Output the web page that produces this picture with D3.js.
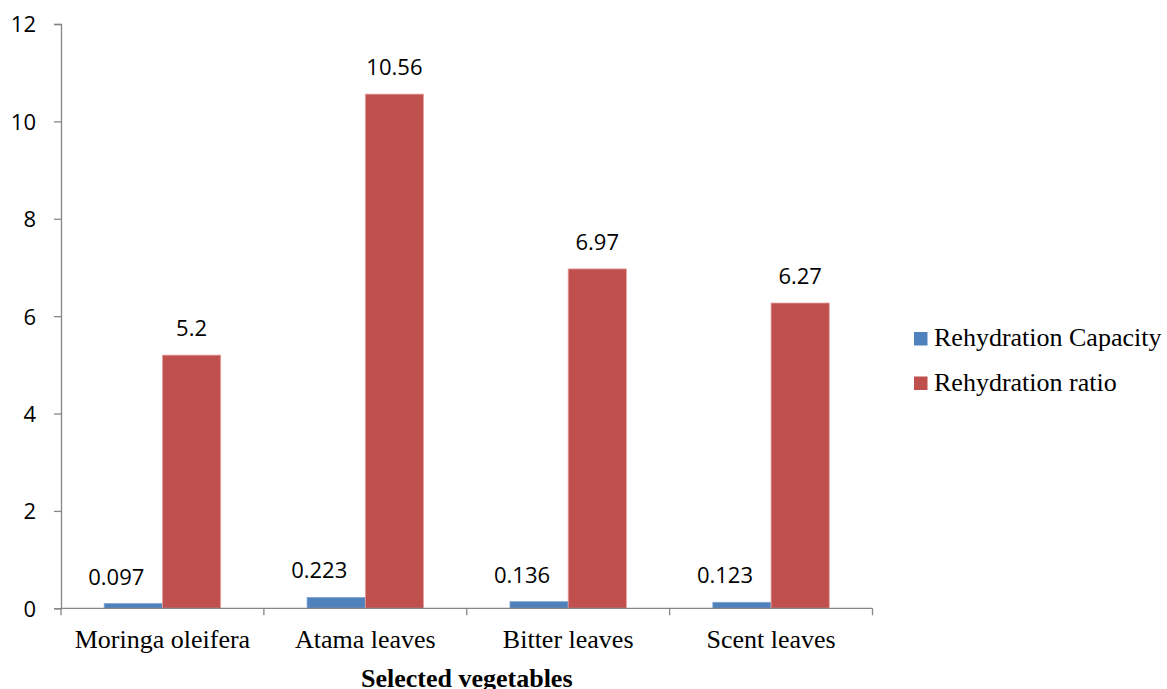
<!DOCTYPE html>
<html>
<head>
<meta charset="utf-8">
<script src="https://cdn.jsdelivr.net/npm/d3@7"></script>
<style>
  html, body { margin: 0; padding: 0; background: #fff; }
  svg { display: block; }
</style>
</head>
<body>
<svg id="chart" width="1167" height="689"></svg>
<script>
// Rehydration properties of dried leafy vegetables
const categories = ["Moringa oleifera", "Atama leaves", "Bitter leaves", "Scent leaves"];
const seriesNames = ["Rehydration Capacity", "Rehydration ratio"];
const rehydrationCapacity = [0.097, 0.223, 0.136, 0.123];
const rehydrationRatio = [5.2, 10.56, 6.97, 6.27];
const capacityLabels = ["0.097", "0.223", "0.136", "0.123"];
const ratioLabels = ["5.2", "10.56", "6.97", "6.27"];
const yTicks = [0, 2, 4, 6, 8, 10, 12];
const xTitle = "Selected vegetables";

const colors = ["#4F81BD", "#C0504D"];
const strokes = ["#7fa3d0", "#e6a3a1"];

const svg = d3.select("#chart");
const plot = { left: 61, right: 872.5, top: 24, bottom: 608.3 };

const x = d3.scaleBand().domain(categories).range([plot.left, plot.right]).paddingInner(0).paddingOuter(0);
const inner = d3.scaleBand().domain(seriesNames).range([0, x.bandwidth()]).paddingInner(0).paddingOuter(0.7425);
const y = d3.scaleLinear().domain([0, 12]).range([plot.bottom, plot.top]);

const axisColor = "#868686";
const serif = "'Liberation Serif', 'Times New Roman', serif";

// Y axis
const yAxis = svg.append("g")
  .attr("transform", `translate(${plot.left},0)`)
  .call(d3.axisLeft(y).tickValues(yTicks).tickSize(7).tickPadding(18).tickFormat(d3.format("d")));
yAxis.select(".domain").attr("stroke", axisColor).attr("stroke-width", 1.3);
yAxis.selectAll(".tick line").attr("stroke", axisColor).attr("stroke-width", 1.3);
yAxis.selectAll(".tick text")
  .attr("fill", "#000")
  .style("font-family", "'Open Sans', sans-serif")
  .style("font-size", "22px")
  .attr("dy", "0.36em");

// Series data
const series = [rehydrationCapacity, rehydrationRatio];
const labels = [capacityLabels, ratioLabels];

const barGroups = svg.append("g");
series.forEach((vals, si) => {
  barGroups.selectAll(null)
    .data(vals.map((v, i) => ({ cat: categories[i], v, label: labels[si][i] })))
    .enter()
    .append("rect")
    .attr("x", d => x(d.cat) + inner(seriesNames[si]))
    .attr("width", inner.bandwidth())
    .attr("y", d => y(d.v))
    .attr("height", d => y(0) - y(d.v))
    .attr("fill", colors[si])
    .attr("stroke", strokes[si])
    .attr("stroke-width", 0.8);
});

// X axis (drawn over bar bottoms)
const xAxis = svg.append("g")
  .attr("transform", `translate(0,${plot.bottom})`)
  .call(d3.axisBottom(x).tickSize(0).tickPadding(0));
xAxis.select(".domain").attr("stroke", axisColor).attr("stroke-width", 1.3).attr("d", `M${plot.left},0H${plot.right}`);
xAxis.selectAll(".tick text")
  .attr("fill", "#000")
  .attr("dy", null)
  .attr("y", 40)
  .style("font-family", serif)
  .style("font-size", "26px");
// Category separator ticks at band boundaries
const boundaries = categories.map(c => x(c)).concat([plot.right]);
xAxis.selectAll(".sep")
  .data(boundaries)
  .enter()
  .append("line")
  .attr("x1", d => d).attr("x2", d => d)
  .attr("y1", 0).attr("y2", 7)
  .attr("stroke", axisColor).attr("stroke-width", 1.3);

// Value labels
const labelOffset = [-17, 0];
series.forEach((vals, si) => {
  svg.append("g").selectAll("text")
    .data(vals.map((v, i) => ({ cat: categories[i], v, label: labels[si][i] })))
    .enter()
    .append("text")
    .attr("x", d => x(d.cat) + inner(seriesNames[si]) + inner.bandwidth() / 2 + labelOffset[si])
    .attr("y", d => y(d.v) - 19)
    .attr("text-anchor", "middle")
    .style("font-family", "'Open Sans', sans-serif")
    .style("font-size", "22px")
    .attr("fill", "#000")
    .text(d => d.label);
});

// Axis title
svg.append("text")
  .attr("x", (plot.left + plot.right) / 2)
  .attr("y", 687)
  .attr("text-anchor", "middle")
  .style("font-family", serif)
  .style("font-size", "26px")
  .style("font-weight", "bold")
  .text(xTitle);

// Legend
const legend = svg.append("g").attr("transform", "translate(914,332)");
seriesNames.forEach((name, i) => {
  const g = legend.append("g").attr("transform", `translate(0,${i * 44.5})`);
  g.append("rect").attr("width", 13.5).attr("height", 13.5).attr("fill", colors[i]);
  g.append("text")
    .attr("x", 20)
    .attr("y", 14)
    .style("font-family", serif)
    .style("font-size", "26px")
    .attr("fill", "#000")
    .text(name);
});
</script>
</body>
</html>
